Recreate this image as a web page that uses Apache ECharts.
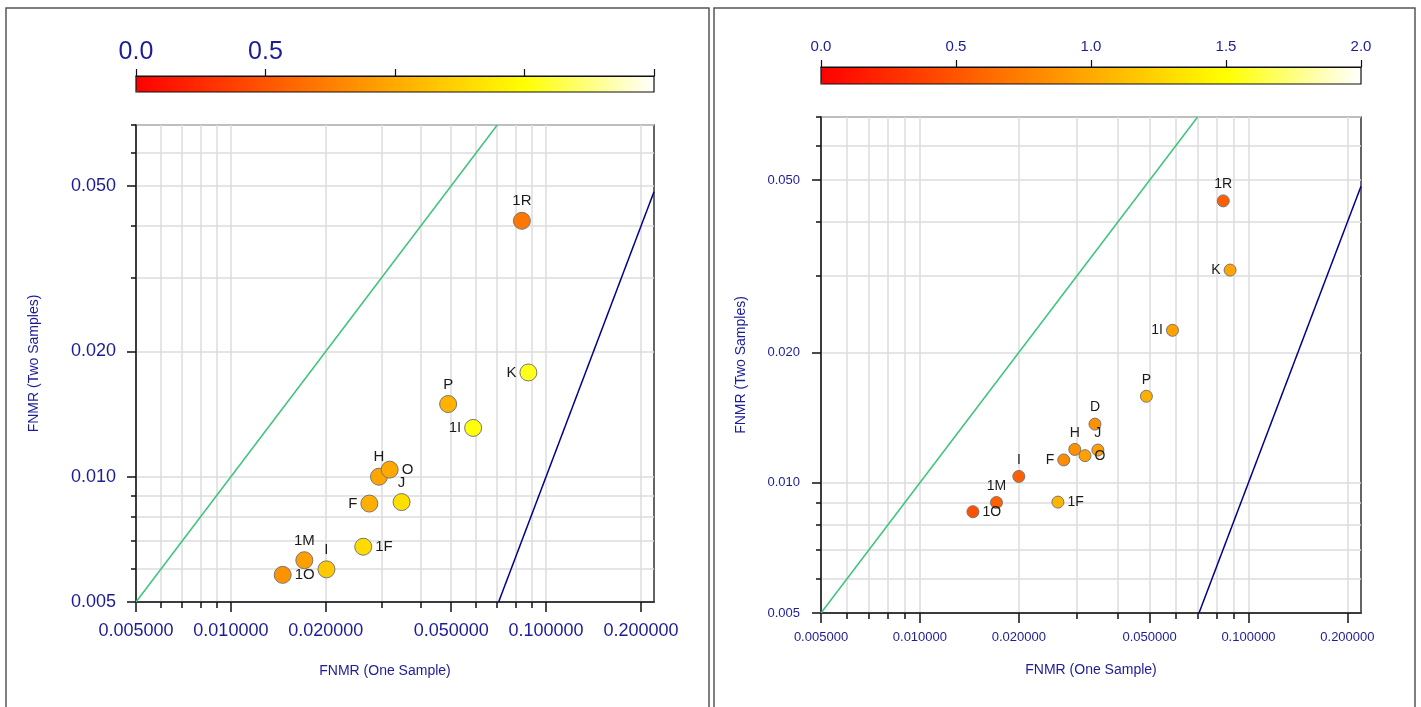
<!DOCTYPE html>
<html>
<head>
<meta charset="utf-8">
<title>FNMR one sample vs two samples</title>
<script src="https://cdn.jsdelivr.net/npm/echarts@6/dist/echarts.min.js"></script>
<style>
  html, body { margin: 0; padding: 0; background: #fff; }
  #chart { width: 1421px; height: 707px; }
</style>
</head>
<body>
<div id="chart"></div>
<script>
// values
const leftNames = ['1R', 'K', 'P', '1I', 'H', 'O', 'J', 'F', '1F', '1M', 'I', '1O'];
const leftOneSample = [0.0838, 0.0879, 0.0489, 0.0587, 0.0295, 0.0319, 0.0348, 0.0275, 0.0263, 0.0171, 0.0201, 0.0146];
const leftTwoSamples = [0.0412, 0.0178, 0.01495, 0.0131, 0.0100, 0.0104, 0.00869, 0.00862, 0.00679, 0.0063, 0.00599, 0.00581];
const leftColorValues = [0.70, 1.55, 1.05, 1.52, 0.97, 0.99, 1.31, 1.03, 1.29, 0.94, 1.18, 0.86];

const rightNames = ['1R', 'K', '1I', 'P', 'D', 'H', 'O', 'J', 'F', 'I', '1M', '1O', '1F'];
const rightOneSample = [0.0838, 0.0879, 0.0587, 0.0489, 0.0341, 0.0296, 0.0318, 0.0348, 0.0274, 0.0200, 0.0171, 0.0145, 0.0263];
const rightTwoSamples = [0.0448, 0.0310, 0.0225, 0.01584, 0.01366, 0.01194, 0.01155, 0.0119, 0.01129, 0.01034, 0.0090, 0.00857, 0.00902];
const rightColorValues = [0.56, 0.97, 0.95, 1.03, 0.85, 0.85, 0.94, 0.94, 0.82, 0.56, 0.57, 0.47, 1.06];

// reference lines (one sample vs two samples)
const identityLine = [[0.005, 0.005], [0.07, 0.07]];
const squareLine = [[0.0707, 0.005], [0.22, 0.0484]];

const xRange = [0.005, 0.22];
const yRange = [0.005, 0.07];
const xGridTicks = [0.005, 0.006, 0.007, 0.008, 0.009, 0.01, 0.02, 0.03, 0.04, 0.05, 0.06, 0.07, 0.08, 0.09, 0.1, 0.2];
const xLabelTicks = [0.005, 0.01, 0.02, 0.05, 0.1, 0.2];
const yGridTicks = [0.005, 0.006, 0.007, 0.008, 0.009, 0.01, 0.02, 0.03, 0.04, 0.05, 0.06, 0.07];
const yLabelTicks = [0.005, 0.01, 0.02, 0.05];
const colorTicks = [0, 0.5, 1, 1.5, 2];
const heatColors = ['#ff0000', '#ff5500', '#ffaa00', '#ffff00', '#ffffff'];

const labelSide = { '1R': 'top', K: 'left', P: 'top', '1I': 'left', H: 'top', O: 'right', J: 'top', F: 'left', '1F': 'right', '1M': 'top', I: 'top', '1O': 'right', D: 'top' };

const TEXT_BLUE = '#1c1c98';
const FONT = 'Liberation Sans, Arial, sans-serif';
const lg = (v) => Math.log10(v);

const panels = [
  {
    grid: { left: 136, top: 125, width: 518, height: 477 },
    bar: { left: 136, top: 76, width: 518, height: 16 },
    tickFont: 18, xLabelMargin: 20, yLabelMargin: 20,
    xNameGap: 62, yNameGap: 95, xNamePad: [0, 20, 0, 0],
    barFont: 25, barMargin: 11, barLabels: [0, 0.5],
    symbolSize: 17, labelFont: 15,
    names: leftNames, xs: leftOneSample, ys: leftTwoSamples, cs: leftColorValues,
  },
  {
    grid: { left: 821, top: 117, width: 540, height: 496 },
    bar: { left: 821, top: 67, width: 540, height: 17 },
    tickFont: 13, xLabelMargin: 18, yLabelMargin: 21,
    xNameGap: 50, yNameGap: 73, xNamePad: 0,
    barFont: 15, barMargin: 13, barLabels: colorTicks,
    symbolSize: 12, labelFont: 14,
    names: rightNames, xs: rightOneSample, ys: rightTwoSamples, cs: rightColorValues,
  },
];

const grids = [];
const xAxes = [];
const yAxes = [];
const series = [];
const visualMaps = [];

const lineStyleAxis = { color: '#111', width: 1.5 };

panels.forEach((p) => {
  const g = grids.length;
  grids.push({ ...p.grid, show: true, borderColor: '#333', borderWidth: 1.5, backgroundColor: 'transparent' });

  xAxes.push({
    type: 'value', gridIndex: g, min: lg(xRange[0]), max: lg(xRange[1]), position: 'bottom',
    name: 'FNMR (One Sample)', nameLocation: 'middle', nameGap: p.xNameGap,
    nameTextStyle: { color: TEXT_BLUE, fontSize: 14, fontFamily: FONT, padding: p.xNamePad },
    axisLine: { onZero: false, lineStyle: lineStyleAxis },
    axisTick: { customValues: xGridTicks.map(lg), length: 6, lineStyle: lineStyleAxis },
    splitLine: { show: true, lineStyle: { color: '#dcdcdc', width: 1.5 } },
    axisLabel: {
      customValues: xLabelTicks.map(lg), margin: p.xLabelMargin,
      color: TEXT_BLUE, fontSize: p.tickFont, fontFamily: FONT,
      formatter: (v) => Math.pow(10, v).toFixed(6),
    },
  });
  // longer ticks under the labelled values
  xAxes.push({
    type: 'value', gridIndex: g, min: lg(xRange[0]), max: lg(xRange[1]), position: 'bottom', offset: 0,
    axisLine: { show: false, onZero: false },
    axisTick: { customValues: xLabelTicks.map(lg), length: 10, lineStyle: lineStyleAxis },
    axisLabel: { show: false }, splitLine: { show: false },
  });

  yAxes.push({
    type: 'value', gridIndex: g, min: lg(yRange[0]), max: lg(yRange[1]), position: 'left',
    name: 'FNMR (Two Samples)', nameLocation: 'middle', nameGap: p.yNameGap,
    nameTextStyle: { color: TEXT_BLUE, fontSize: 14, fontFamily: FONT },
    axisLine: { onZero: false, lineStyle: lineStyleAxis },
    axisTick: { customValues: yGridTicks.map(lg), length: 5, lineStyle: lineStyleAxis },
    splitLine: { show: true, lineStyle: { color: '#dcdcdc', width: 1.5 } },
    axisLabel: {
      customValues: yLabelTicks.map(lg), margin: p.yLabelMargin,
      color: TEXT_BLUE, fontSize: p.tickFont, fontFamily: FONT,
      formatter: (v) => Math.pow(10, v).toFixed(3),
    },
  });
  yAxes.push({
    type: 'value', gridIndex: g, min: lg(yRange[0]), max: lg(yRange[1]), position: 'left', offset: 0,
    axisLine: { show: false, onZero: false },
    axisTick: { customValues: yLabelTicks.map(lg), length: 9, lineStyle: lineStyleAxis },
    axisLabel: { show: false }, splitLine: { show: false },
  });

  const xi = xAxes.length - 2;
  const yi = yAxes.length - 2;

  series.push({
    type: 'line', xAxisIndex: xi, yAxisIndex: yi, silent: true, symbol: 'none', clip: true,
    data: identityLine.map(([x, y]) => [lg(x), lg(y)]),
    lineStyle: { color: '#3cc47c', width: 1.5 }, z: 2,
  });
  series.push({
    type: 'line', xAxisIndex: xi, yAxisIndex: yi, silent: true, symbol: 'none', clip: true,
    data: squareLine.map(([x, y]) => [lg(x), lg(y)]),
    lineStyle: { color: '#00008b', width: 1.5 }, z: 2,
  });

  visualMaps.push({
    type: 'continuous', seriesIndex: series.length, dimension: 2, min: 0, max: 2,
    orient: 'horizontal', left: p.bar.left, top: p.bar.top, padding: 0,
    itemWidth: p.bar.height, itemHeight: p.bar.width, calculable: false,
    inRange: { color: heatColors }, text: null,
  });

  series.push({
    type: 'scatter', xAxisIndex: xi, yAxisIndex: yi, symbolSize: p.symbolSize, z: 5,
    itemStyle: { borderColor: '#777', borderWidth: 1, opacity: 1 },
    label: { show: true, formatter: '{b}', color: '#1a1a1a', fontSize: p.labelFont, fontFamily: FONT, distance: 3 },
    data: p.names.map((n, k) => ({
      name: n,
      value: [lg(p.xs[k]), lg(p.ys[k]), p.cs[k]],
      label: { position: labelSide[n] },
    })),
  });
});

// colour bar frames with their scale on top
panels.forEach((p) => {
  const g = grids.length;
  grids.push({ ...p.bar, show: true, borderColor: '#111', borderWidth: 1.2, backgroundColor: 'transparent', z: 10 });
  xAxes.push({
    type: 'value', gridIndex: g, min: 0, max: 2, interval: 0.5, position: 'top', z: 10,
    axisLine: { onZero: false, lineStyle: { color: '#111', width: 1.2 } },
    axisTick: { inside: false, length: 7, lineStyle: { color: '#111', width: 1.2 } },
    splitLine: { show: false },
    axisLabel: {
      margin: p.barMargin, color: TEXT_BLUE, fontSize: p.barFont, fontFamily: FONT,
      formatter: (v) => (p.barLabels.includes(v) ? v.toFixed(1) : ''),
    },
  });
  yAxes.push({ type: 'value', gridIndex: g, min: 0, max: 1, show: false });
});

const chart = echarts.init(document.getElementById('chart'), null, { renderer: 'canvas' });
chart.setOption({
  animation: false,
  backgroundColor: '#fff',
  textStyle: { fontFamily: FONT },
  grid: grids,
  xAxis: xAxes,
  yAxis: yAxes,
  visualMap: visualMaps,
  series,
  graphic: [
    { type: 'rect', silent: true, shape: { x: 6, y: 8, width: 703, height: 720 }, style: { fill: 'none', stroke: '#555', lineWidth: 1.5 } },
    { type: 'rect', silent: true, shape: { x: 714, y: 8, width: 701, height: 720 }, style: { fill: 'none', stroke: '#555', lineWidth: 1.5 } },
  ],
});
window.addEventListener('resize', () => chart.resize());
</script>
</body>
</html>
